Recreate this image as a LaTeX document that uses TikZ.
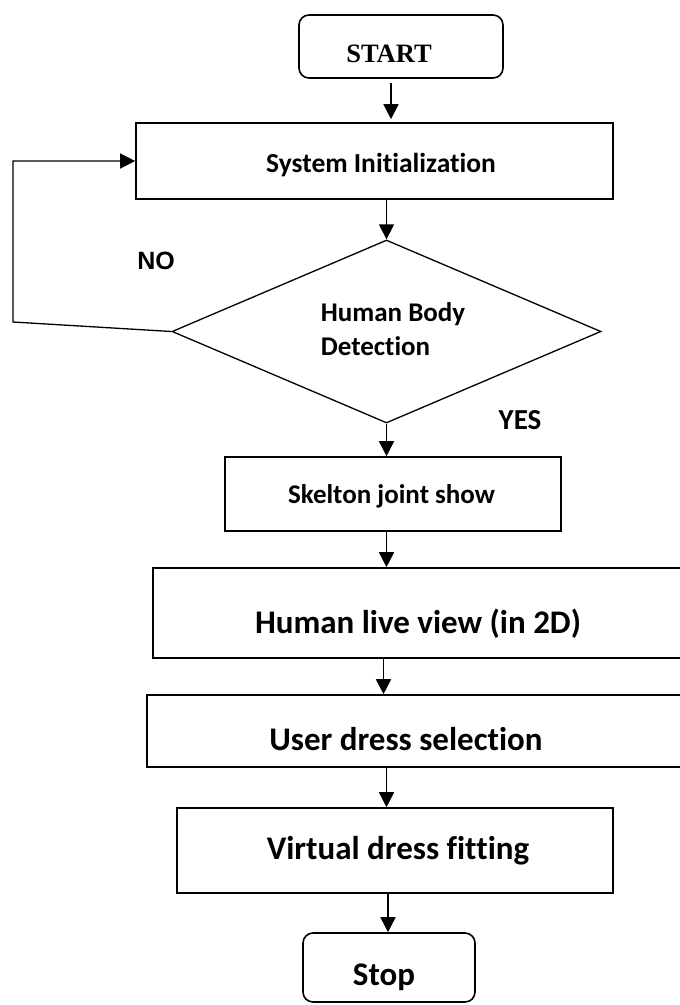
\documentclass[tikz,border=0pt]{standalone}
\usepackage{fontspec}
\setmainfont{Carlito}[Ligatures={NoCommon}]
\newfontfamily\serifbf{Liberation Serif}
\newfontfamily\arialbf{Liberation Sans}
\usetikzlibrary{shapes.geometric,arrows.meta}
\newcommand\mvtext[3]{\raisebox{#2}[\height][\depth]{\hspace*{#1}#3\hspace*{-#1}}}
\tikzset{
  procbox/.style={draw, line width=1.6pt, inner sep=0pt, text depth=0pt, font=\bfseries},
  termbox/.style={procbox, rounded corners=10pt},
  decbox/.style={draw, diamond, line width=1.3pt, inner sep=0pt, font=\bfseries},
  arr/.style={line width=1.5pt, -{Triangle[length=15pt,width=15pt]}},
  lbl/.style={inner sep=0pt, text depth=0pt, font=\bfseries},
}
\begin{document}
\begin{tikzpicture}[x=1pt,y=-1pt]
\useasboundingbox (0,0) rectangle (680,1005);
\clip (0,0) rectangle (680,1005);
\fill[white] (0,0) rectangle (680,1005);

\node[termbox, minimum width=204pt, minimum height=63pt, text height=17.2pt,
      font=\serifbf\bfseries\fontsize{26.5}{30}\selectfont] (start) at (401,46.5)
      {\mvtext{-12pt}{-7pt}{START}};

\node[procbox, minimum width=477pt, minimum height=76pt, text height=17.7pt,
      font=\bfseries\fontsize{27.5}{33}\selectfont] (sys) at (374.5,161)
      {\mvtext{6.5pt}{-3pt}{System Initialization}};

\node[decbox, minimum width=429pt, minimum height=183pt, aspect=2.34,
      font=\bfseries\fontsize{27}{34}\selectfont] (dec) at (386.5,331.5)
      {\mvtext{6.5pt}{0pt}{\begin{tabular}{@{}l@{}}Human Body\\Detection\end{tabular}}};

\node[procbox, minimum width=336pt, minimum height=74pt, text height=17.4pt,
      font=\bfseries\fontsize{27}{33}\selectfont] (skel) at (393,494)
      {\mvtext{-1.5pt}{-1pt}{Skelton joint show}};

\node[procbox, minimum width=532pt, minimum height=90pt, text height=21.25pt,
      font=\bfseries\fontsize{33}{40}\selectfont] (human) at (419,613)
      {\mvtext{-1pt}{-10pt}{Human live view (in 2D)}};

\node[procbox, minimum width=538pt, minimum height=72pt, text height=21.25pt,
      font=\bfseries\fontsize{33}{40}\selectfont] (user) at (416,731)
      {\mvtext{-10pt}{-9pt}{User dress selection}};

\node[procbox, minimum width=436pt, minimum height=85pt, text height=21.25pt,
      font=\bfseries\fontsize{33}{40}\selectfont] (virt) at (395,850.5)
      {\mvtext{3pt}{2pt}{Virtual dress fitting}};

\node[termbox, minimum width=172pt, minimum height=69pt, text height=21.25pt,
      font=\bfseries\fontsize{33}{40}\selectfont] (stop) at (389,967.5)
      {\mvtext{-5pt}{-7.5pt}{Stop}};

\node[lbl, text height=17.9pt, font=\arialbf\bfseries\fontsize{25}{30}\selectfont] (no) at (156,260.5) {NO};
\node[lbl, text height=18.7pt, font=\bfseries\fontsize{29}{34}\selectfont] (yes) at (520,420) {YES};

\coordinate (fbk) at (13,322);

\draw[arr, shorten <=4pt, shorten >=3pt] ([xshift=-10pt]start.south) -- ([xshift=-10pt]start.south |- sys.north);
\draw[arr] (sys.south -| dec.north) -- (dec.north);
\draw[arr] (dec.south) -- (dec.south |- skel.north);
\draw[arr] (skel.south -| dec.south) -- (dec.south |- human.north);
\draw[arr] ([xshift=-3pt]human.south -| dec.south) -- ([xshift=-3pt]dec.south |- user.north);
\draw[arr] (user.south -| dec.south) -- (dec.south |- virt.north);
\draw[arr] ([xshift=1.5pt]virt.south -| dec.south) -- ([xshift=1.5pt]dec.south |- stop.north);
\draw[arr, line width=1.3pt] (dec.west) -- (fbk) |- (sys.west);
\end{tikzpicture}
\end{document}
